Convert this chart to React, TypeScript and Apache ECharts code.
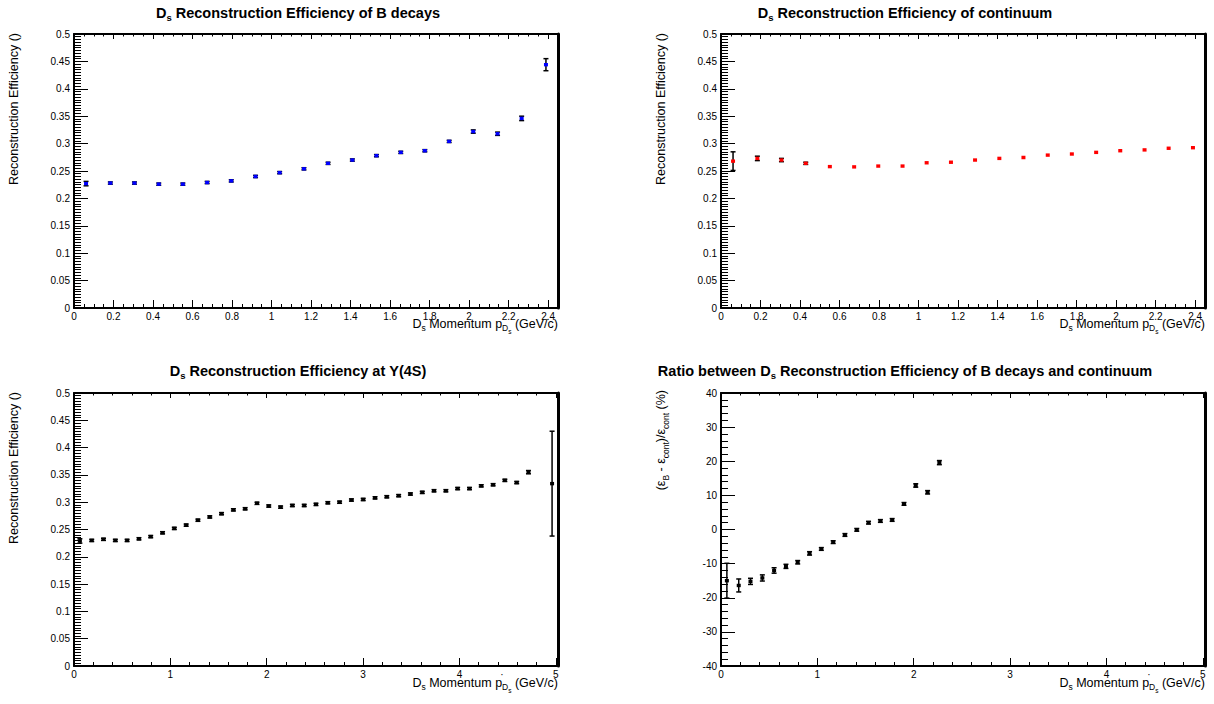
import React, { useEffect, useRef } from 'react';
import * as echarts from 'echarts';

const FONT = '"Liberation Sans", Arial, Helvetica, sans-serif';

// bin centres (GeV/c)
const xBinsTop = [0.061, 0.184, 0.306, 0.429, 0.551, 0.674, 0.796, 0.919, 1.041, 1.164, 1.286, 1.409, 1.531, 1.654, 1.776, 1.899, 2.021, 2.144, 2.266, 2.389];
const xBinsY4S = [0.061, 0.184, 0.306, 0.429, 0.551, 0.674, 0.796, 0.919, 1.041, 1.164, 1.286, 1.409, 1.531, 1.654, 1.776, 1.899, 2.021, 2.144, 2.266, 2.389, 2.511, 2.634, 2.756, 2.879, 3.001, 3.124, 3.246, 3.369, 3.491, 3.614, 3.736, 3.859, 3.981, 4.104, 4.226, 4.349, 4.471, 4.594, 4.716, 4.961];
const xBinsRatio = [0.061, 0.184, 0.306, 0.429, 0.551, 0.674, 0.796, 0.919, 1.041, 1.164, 1.286, 1.409, 1.531, 1.654, 1.776, 1.899, 2.021, 2.144, 2.266];

// efficiency of B decays
const effB = [0.227, 0.228, 0.228, 0.226, 0.226, 0.229, 0.232, 0.240, 0.247, 0.254, 0.264, 0.270, 0.278, 0.284, 0.287, 0.304, 0.322, 0.318, 0.346, 0.444];
const effBErr = [0.004, 0.002, 0.002, 0.002, 0.002, 0.002, 0.002, 0.002, 0.002, 0.002, 0.002, 0.002, 0.002, 0.002, 0.002, 0.002, 0.003, 0.003, 0.004, 0.011];

// efficiency of continuum
const effCont = [0.268, 0.273, 0.270, 0.264, 0.258, 0.2575, 0.259, 0.259, 0.265, 0.266, 0.270, 0.273, 0.2745, 0.279, 0.281, 0.284, 0.287, 0.2885, 0.2915, 0.2925];
const effContErr = [0.017, 0.004, 0.003, 0.002, 0.0015, 0.0015, 0.0015, 0.0015, 0.0015, 0.0015, 0.0015, 0.0015, 0.0015, 0.0015, 0.0015, 0.0015, 0.0015, 0.0015, 0.0015, 0.0015];

// efficiency at Upsilon(4S)
const effY4S = [0.229, 0.230, 0.232, 0.230, 0.230, 0.233, 0.237, 0.244, 0.252, 0.258, 0.267, 0.273, 0.279, 0.286, 0.288, 0.298, 0.293, 0.291, 0.294, 0.294, 0.296, 0.299, 0.300, 0.304, 0.305, 0.308, 0.310, 0.312, 0.315, 0.318, 0.321, 0.321, 0.325, 0.325, 0.330, 0.332, 0.340, 0.336, 0.355, 0.334];
const effY4SErr = [0.004, 0.002, 0.002, 0.002, 0.002, 0.002, 0.002, 0.002, 0.002, 0.002, 0.002, 0.002, 0.002, 0.002, 0.002, 0.002, 0.002, 0.002, 0.002, 0.002, 0.002, 0.002, 0.002, 0.002, 0.002, 0.002, 0.002, 0.002, 0.002, 0.002, 0.002, 0.002, 0.002, 0.002, 0.002, 0.002, 0.002, 0.002, 0.003, 0.096];

// ratio (%)
const ratio = [-15.0, -16.4, -15.2, -14.2, -12.0, -10.8, -9.6, -7.0, -5.7, -3.7, -1.6, -0.1, 2.0, 2.5, 2.8, 7.5, 12.9, 10.9, 19.6];
const ratioErr = [5.1, 1.9, 0.9, 0.9, 0.8, 0.6, 0.5, 0.5, 0.4, 0.4, 0.4, 0.4, 0.4, 0.4, 0.4, 0.4, 0.5, 0.5, 0.6];

const zip3 = (xs: number[], ys: number[], es: number[]) => xs.map((x, i) => [x, ys[i], es[i]]);

const labelFormatter = (interval: number) => (v: number) => {
  const k = v / interval;
  if (Math.abs(k - Math.round(k)) > 1e-6) return '';
  return String(parseFloat(v.toFixed(4)));
};

const axisFont = { fontFamily: FONT, fontSize: 10, color: '#000' };

function xBottom(grid: number, max: number, interval: number, split: number) {
  return {
    type: 'value', gridIndex: grid, position: 'bottom', min: 0, max, interval,
    axisLine: { show: true, onZero: false, lineStyle: { color: '#000', width: 2 } },
    axisTick: { show: true, inside: true, length: 8, lineStyle: { color: '#000', width: 1 } },
    minorTick: { show: true, splitNumber: split, length: 4, lineStyle: { color: '#000', width: 1 } },
    splitLine: { show: false }, minorSplitLine: { show: false },
    axisLabel: { ...axisFont, margin: 3, formatter: labelFormatter(interval) },
  };
}
function xTop(grid: number, max: number, interval: number, split: number) {
  return {
    type: 'value', gridIndex: grid, position: 'top', min: 0, max, interval,
    axisLine: { show: true, onZero: false, lineStyle: { color: '#000', width: 2 } },
    axisTick: { show: true, inside: true, length: 5, lineStyle: { color: '#000', width: 1 } },
    minorTick: { show: true, splitNumber: split, length: 2.5, lineStyle: { color: '#000', width: 1 } },
    splitLine: { show: false }, minorSplitLine: { show: false },
    axisLabel: { show: false },
  };
}
function yLeft(grid: number, min: number, max: number, interval: number, split: number) {
  return {
    type: 'value', gridIndex: grid, position: 'left', min, max, interval,
    axisLine: { show: true, onZero: false, lineStyle: { color: '#000', width: 2 } },
    axisTick: { show: true, inside: true, length: 14, lineStyle: { color: '#000', width: 1 } },
    minorTick: { show: true, splitNumber: split, length: 7, lineStyle: { color: '#000', width: 1 } },
    splitLine: { show: false }, minorSplitLine: { show: false },
    axisLabel: { ...axisFont, margin: 4, formatter: labelFormatter(interval) },
  };
}
function yRight(grid: number, min: number, max: number) {
  return {
    type: 'value', gridIndex: grid, position: 'right', min, max,
    axisLine: { show: true, onZero: false, lineStyle: { color: '#000', width: 3 } },
    axisTick: { show: false }, minorTick: { show: false },
    splitLine: { show: false }, axisLabel: { show: false },
  };
}

function errSeries(idx: number, data: number[][], color: string) {
  return {
    type: 'custom', xAxisIndex: idx * 2, yAxisIndex: idx * 2, clip: false,
    encode: { x: 0, y: 1 },
    data,
    renderItem: (_p: any, api: any) => {
      const x = api.value(0), y = api.value(1), e = api.value(2);
      const c = api.coord([x, y]);
      const t = api.coord([x, y + e]);
      const b = api.coord([x, y - e]);
      const children: any[] = [];
      if (Math.abs(b[1] - t[1]) > 2) {
        children.push({ type: 'line', shape: { x1: c[0], y1: t[1], x2: c[0], y2: b[1] }, style: { stroke: '#000', lineWidth: 1.5 } });
        children.push({ type: 'line', shape: { x1: c[0] - 2.5, y1: t[1], x2: c[0] + 2.5, y2: t[1] }, style: { stroke: '#000', lineWidth: 1.5 } });
        children.push({ type: 'line', shape: { x1: c[0] - 2.5, y1: b[1], x2: c[0] + 2.5, y2: b[1] }, style: { stroke: '#000', lineWidth: 1.5 } });
      }
      children.push({ type: 'rect', shape: { x: c[0] - 2, y: c[1] - 1.7, width: 4, height: 3.4 }, style: { fill: color } });
      return { type: 'group', children };
    },
  };
}

const richTitle: any = {
  t: { fontFamily: FONT, fontSize: 14.5, fontWeight: 'bold', fill: '#000', verticalAlign: 'top' },
  ts: { fontFamily: FONT, fontSize: 9.5, fontWeight: 'bold', fill: '#000', verticalAlign: 'top', padding: [7, 0, 0, 0] },
};
const richAxis: any = {
  a: { fontFamily: FONT, fontSize: 12.5, fill: '#000', verticalAlign: 'top' },
  as: { fontFamily: FONT, fontSize: 8.5, fill: '#000', verticalAlign: 'top', padding: [6.5, 0, 0, 0] },
  ass: { fontFamily: FONT, fontSize: 6.5, fill: '#000', verticalAlign: 'top', padding: [11, 0, 0, 0] },
};

const titleText = (x: number, y: number, text: string) => ({
  type: 'text', x, y, silent: true,
  style: { text, rich: richTitle, align: 'center', verticalAlign: 'top' },
});
const xTitle = (x: number, y: number) => ({
  type: 'text', x, y, silent: true,
  style: { text: '{a|D}{as|s}{a| Momentum p}{as|D}{ass|s}{a| (GeV/c)}', rich: richAxis, align: 'right', verticalAlign: 'top' },
});
const yTitle = (x: number, y: number, text: string) => ({
  type: 'text', x, y, rotation: Math.PI / 2, silent: true,
  style: { text, rich: richAxis, align: 'right', verticalAlign: 'top' },
});
const dot = (x: number, y: number) => ({
  type: 'text', x, y, silent: true,
  style: { text: '\u00B7', fontFamily: FONT, fontSize: 10, fill: '#000', align: 'center', verticalAlign: 'middle' },
});

export default function App() {
  const ref = useRef<HTMLDivElement>(null);
  useEffect(() => {
    if (!ref.current) return;
    const chart = echarts.init(ref.current, undefined, { renderer: 'svg' });
    const grids = [
      { left: 74, top: 34, width: 484, height: 274 },
      { left: 721, top: 34, width: 484, height: 274 },
      { left: 74, top: 393, width: 484, height: 273 },
      { left: 721, top: 393, width: 484, height: 273 },
    ].map((g) => ({ ...g, show: false, containLabel: false, outerBoundsMode: 'none' }));

    const option: any = {
      animation: false,
      backgroundColor: '#fff',
      grid: grids,
      xAxis: [
        xBottom(0, 2.45, 0.2, 4), xTop(0, 2.45, 0.2, 4),
        xBottom(1, 2.45, 0.2, 4), xTop(1, 2.45, 0.2, 4),
        xBottom(2, 5.0225, 1, 5), xTop(2, 5.0225, 1, 5),
        xBottom(3, 5.0225, 1, 5), xTop(3, 5.0225, 1, 5),
      ],
      yAxis: [
        yLeft(0, 0, 0.5, 0.05, 10), yRight(0, 0, 0.5),
        yLeft(1, 0, 0.5, 0.05, 10), yRight(1, 0, 0.5),
        yLeft(2, 0, 0.5, 0.05, 10), yRight(2, 0, 0.5),
        yLeft(3, -40, 40, 10, 5), yRight(3, -40, 40),
      ],
      series: [
        errSeries(0, zip3(xBinsTop, effB, effBErr), '#0000ff'),
        errSeries(1, zip3(xBinsTop, effCont, effContErr), '#ff0000'),
        errSeries(2, zip3(xBinsY4S, effY4S, effY4SErr), '#000'),
        errSeries(3, zip3(xBinsRatio, ratio, ratioErr), '#000'),
      ],
      graphic: [
        titleText(298, 5, '{t|D}{ts|s}{t| Reconstruction Efficiency of B decays}'),
        titleText(905, 5, '{t|D}{ts|s}{t| Reconstruction Efficiency of continuum}'),
        titleText(298, 363, '{t|D}{ts|s}{t| Reconstruction Efficiency at \u03A5(4S)}'),
        titleText(905, 363, '{t|Ratio between D}{ts|s}{t| Reconstruction Efficiency of B decays and continuum}'),
        xTitle(558, 317), xTitle(1205, 317), xTitle(558, 676), xTitle(1205, 676),
        yTitle(7.7, 33, '{a|Reconstruction Efficiency ()}'),
        yTitle(654.7, 33, '{a|Reconstruction Efficiency ()}'),
        yTitle(7.7, 392, '{a|Reconstruction Efficiency ()}'),
        yTitle(654.7, 390, '{a|(\u03B5}{as|B}{a| - \u03B5}{as|cont}{a|)/\u03B5}{as|cont}{a| (%)}'),
        dot(502, 674), dot(1149, 674),
      ],
    };
    chart.setOption(option);
    return () => chart.dispose();
  }, []);
  return <div ref={ref} style={{ position: 'fixed', left: 0, top: 0, width: 1214, height: 704, background: '#fff' }} />;
}
